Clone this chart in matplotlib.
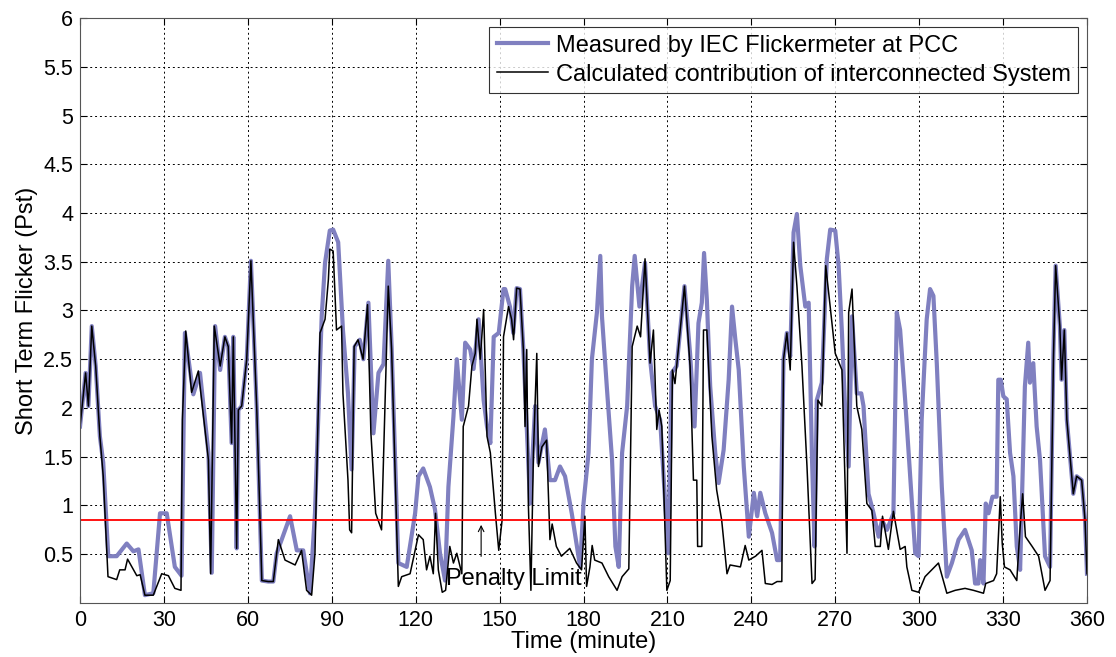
import numpy as np
import matplotlib
matplotlib.use("Agg")
import matplotlib.pyplot as plt
from matplotlib.ticker import FuncFormatter

plt.rcParams["font.family"] = ["Liberation Sans", "DejaVu Sans"]

# measured Pst (IEC flickermeter at PCC)
t_meas = [0, 2.0, 3.0, 4.2, 5.6, 7.1, 8.3, 10.1, 13.1, 16.7, 19.1, 20.9, 23.2, 26.2, 28.6, 31.0,
          33.9, 36.3, 37.5, 40.5, 42.9, 45.9, 47.1, 48.3, 50.1, 51.8, 53.0, 54.2, 54.8, 56.0,
          56.6, 57.8, 59.6, 61.1, 63.2, 65.0, 67.3, 69.1, 70.3, 72.1, 75.1, 77.5, 79.8, 82.2,
          84.0, 86.4, 87.6, 89.3, 90.5, 92.3, 94.0, 95.8, 97.1, 98.2, 100.0, 101.3, 103.1,
          104.9, 106.7, 108.5, 110.2, 111.4, 113.8, 116.8, 119.8, 121.0, 122.7, 125.1, 126.9,
          128.7, 130.5, 131.7, 133.5, 134.7, 136.5, 137.7, 139.5, 140.7, 142.5, 144.3, 145.5,
          146.7, 147.9, 149.7, 151.4, 152.0, 153.7, 154.9, 156.1, 157.3, 158.5, 159.7, 160.9,
          162.7, 163.9, 166.2, 168.0, 169.8, 171.6, 173.4, 175.8, 178.8, 180.0, 181.8, 183.0,
          184.8, 186.0, 186.6, 188.4, 190.2, 191.4, 192.6, 193.8, 195.6, 197.4, 198.3, 200.0,
          202.0, 203.8, 205.6, 207.4, 209.2, 210.3, 211.5, 213.3, 216.1, 218.1, 219.7, 221.1,
          222.3, 223.1, 224.1, 225.3, 227.1, 228.3, 230.1, 231.9, 233.1, 234.3, 235.5, 237.3,
          239.1, 240.9, 242.1, 243.2, 245.0, 247.4, 249.2, 250.3, 251.5, 252.7, 253.9, 255.1,
          256.3, 257.5, 259.3, 260.5, 261.7, 262.6, 263.4, 265.2, 267.0, 268.2, 270.0, 271.2,
          272.4, 273.6, 274.8, 276.0, 277.7, 279.3, 280.1, 281.9, 283.7, 285.5, 286.7, 288.5,
          290.8, 292.0, 293.2, 295.0, 296.8, 298.6, 299.8, 300.9, 302.7, 303.9, 305.1, 306.3,
          308.1, 309.9, 311.7, 314.1, 316.4, 318.8, 320.0, 321.2, 321.8, 323.0, 323.8, 324.8,
          326.2, 327.7, 328.3, 329.2, 330.1, 331.3, 332.5, 333.7, 334.9, 336.1, 337.8, 339.0,
          339.6, 340.8, 342.0, 343.2, 345.0, 346.8, 348.0, 348.8, 350.3, 350.9, 351.9, 352.8,
          355.1, 356.3, 358.1, 359.3, 360.0]
pst_meas = [1.81, 2.36, 2.02, 2.84, 2.43, 1.71, 1.44, 0.48, 0.48, 0.61, 0.53, 0.55, 0.08, 0.10,
            0.92, 0.92, 0.37, 0.28, 2.77, 2.14, 2.36, 1.54, 0.31, 2.84, 2.39, 2.73, 2.63, 1.64,
            2.73, 0.56, 1.98, 2.02, 2.50, 3.51, 1.98, 0.23, 0.22, 0.22, 0.51, 0.65, 0.89, 0.54,
            0.54, 0.10, 0.92, 2.94, 3.49, 3.82, 3.83, 3.70, 2.80, 2.15, 1.37, 2.63, 2.70, 2.50,
            3.08, 1.74, 2.36, 2.45, 3.51, 2.63, 0.41, 0.37, 0.92, 1.30, 1.38, 1.19, 0.96, 0.51,
            0.23, 1.19, 1.91, 2.50, 1.88, 2.67, 2.60, 2.40, 2.91, 2.08, 1.81, 1.64, 2.73, 2.77,
            3.22, 3.22, 3.04, 2.77, 3.23, 3.22, 2.60, 1.81, 1.02, 2.02, 1.44, 1.78, 1.26, 1.26,
            1.40, 1.30, 0.92, 0.37, 1.02, 1.54, 2.50, 2.98, 3.56, 2.94, 2.19, 1.47, 0.58, 0.37,
            1.54, 2.02, 3.25, 3.56, 3.04, 3.49, 2.50, 2.02, 1.88, 1.02, 0.51, 2.36, 2.43, 3.25,
            2.56, 1.81, 2.87, 3.08, 3.59, 3.11, 2.22, 1.54, 1.23, 1.57, 2.29, 3.04, 2.70, 2.39,
            1.40, 0.68, 1.13, 0.89, 1.13, 0.92, 0.72, 0.44, 0.44, 2.50, 2.77, 2.53, 3.80, 3.99,
            3.46, 3.04, 3.08, 1.47, 0.58, 2.08, 2.26, 3.53, 3.83, 3.82, 3.46, 2.77, 1.95, 1.40,
            2.94, 2.15, 2.15, 2.02, 1.12, 0.92, 0.68, 0.85, 0.75, 0.92, 2.98, 2.80, 2.08, 1.30,
            0.51, 0.48, 1.88, 2.91, 3.22, 3.15, 2.46, 1.19, 0.27, 0.41, 0.65, 0.75, 0.54, 0.20,
            0.20, 0.44, 0.20, 1.02, 0.92, 1.09, 1.09, 2.29, 2.29, 2.12, 2.09, 1.54, 1.30, 0.58,
            0.34, 2.22, 2.67, 2.26, 2.46, 1.81, 1.47, 0.48, 0.37, 2.56, 3.46, 2.84, 2.29, 2.80,
            1.88, 1.12, 1.30, 1.26, 0.85, 0.30]

# calculated contribution of the interconnected system
t_calc = [0, 2.0, 3.0, 4.2, 5.6, 7.1, 8.3, 10.0, 13.1, 14.2, 16.1, 17.0, 20.3, 21.5, 23.2,
          26.2, 29.2, 31.6, 33.9, 36.1, 36.6, 37.8, 39.9, 42.3, 45.9, 46.7, 48.0, 50.1, 51.8,
          53.0, 54.2, 54.8, 56.0, 56.6, 57.8, 59.6, 61.1, 63.2, 65.0, 67.3, 69.1, 70.9, 73.3,
          76.9, 79.2, 81.0, 82.8, 84.0, 85.8, 87.6, 88.8, 89.3, 90.5, 91.7, 93.5, 94.0, 95.8,
          96.4, 97.1, 98.0, 99.4, 101.2, 102.8, 104.0, 105.7, 107.8, 110.2, 111.4, 113.8, 115.0,
          118.0, 121.0, 122.7, 123.9, 125.1, 126.3, 127.1, 128.1, 129.5, 130.7, 132.2, 133.5,
          134.7, 136.5, 137.0, 138.9, 140.1, 141.3, 141.9, 143.1, 144.3, 145.5, 146.7, 148.5,
          149.7, 150.9, 151.4, 153.2, 154.3, 155.0, 156.1, 157.3, 158.5, 159.1, 159.7, 160.3,
          161.2, 162.1, 163.3, 163.9, 165.1, 166.8, 168.0, 168.8, 170.3, 172.1, 175.1, 177.5,
          179.3, 180.5, 181.1, 182.3, 183.1, 184.0, 186.6, 189.0, 192.0, 193.8, 196.2, 197.4,
          199.2, 200.4, 202.0, 203.8, 205.0, 206.2, 207.0, 208.0, 209.8, 211.0, 211.8, 212.7,
          216.1, 218.1, 219.3, 220.5, 220.8, 222.3, 222.9, 224.1, 225.9, 227.6, 229.4, 231.3,
          232.4, 236.1, 237.8, 239.1, 241.5, 243.8, 245.0, 247.4, 249.2, 250.9, 251.5, 252.7,
          253.9, 255.1, 256.3, 258.1, 259.9, 261.7, 262.8, 263.8, 265.2, 266.6, 270.0, 272.4,
          274.2, 274.8, 276.0, 277.7, 279.5, 281.3, 283.1, 284.3, 286.1, 286.9, 289.0, 290.8,
          293.2, 295.0, 295.6, 297.4, 299.8, 302.1, 306.9, 309.9, 312.9, 316.4, 319.4, 323.0,
          323.8, 326.6, 327.7, 329.0, 329.7, 330.5, 332.5, 334.9, 336.1, 337.0, 338.0, 340.4,
          342.7, 345.0, 346.8, 348.0, 348.8, 350.3, 350.9, 351.9, 352.8, 355.1, 356.3, 358.1,
          359.3, 360.0]
pst_calc = [1.81, 2.36, 2.02, 2.84, 2.43, 1.71, 1.30, 0.27, 0.24, 0.34, 0.34, 0.45, 0.28, 0.29,
            0.08, 0.08, 0.30, 0.28, 0.15, 0.13, 1.88, 2.79, 2.16, 2.38, 1.47, 0.30, 2.84, 2.43,
            2.73, 2.63, 1.64, 2.73, 0.56, 1.98, 2.02, 2.50, 3.51, 1.98, 0.23, 0.22, 0.22, 0.65,
            0.44, 0.39, 0.54, 0.13, 0.08, 0.51, 2.77, 2.91, 3.32, 3.63, 3.61, 2.80, 2.84, 2.15,
            1.26, 0.75, 0.72, 2.63, 2.70, 2.50, 3.06, 1.74, 0.92, 0.75, 3.25, 2.60, 0.17, 0.27,
            0.30, 0.70, 0.65, 0.34, 0.48, 0.30, 0.92, 0.34, 0.11, 0.13, 0.58, 0.41, 0.51, 0.30,
            1.81, 2.02, 2.43, 2.56, 2.91, 2.50, 3.01, 1.71, 1.54, 0.92, 0.54, 0.85, 2.73, 3.04,
            2.91, 2.70, 3.23, 3.22, 2.60, 1.81, 2.60, 1.00, 0.13, 1.54, 2.56, 1.40, 1.60, 1.67,
            0.65, 0.81, 0.58, 0.48, 0.56, 0.41, 0.34, 0.89, 0.17, 0.37, 0.59, 0.44, 0.41, 0.27,
            0.13, 0.27, 0.35, 2.63, 2.84, 2.73, 3.53, 2.46, 2.80, 1.78, 1.98, 1.81, 0.13, 0.23,
            2.39, 2.25, 3.25, 2.43, 1.26, 1.26, 0.58, 0.58, 2.80, 2.80, 1.71, 1.16, 0.85, 0.30,
            0.39, 0.37, 0.59, 0.44, 0.48, 0.54, 0.20, 0.19, 0.22, 0.22, 2.50, 2.77, 2.39, 3.70,
            3.25, 2.43, 1.40, 0.20, 0.24, 2.08, 2.02, 3.46, 2.56, 2.39, 0.51, 2.98, 3.22, 2.02,
            1.78, 1.02, 0.95, 0.58, 0.58, 0.89, 0.55, 0.94, 0.55, 0.58, 0.37, 0.13, 0.11, 0.27,
            0.41, 0.10, 0.13, 0.15, 0.13, 0.10, 0.20, 0.23, 0.30, 1.09, 0.61, 0.37, 0.34, 0.23,
            0.78, 1.12, 0.68, 0.58, 0.48, 0.13, 0.23, 2.50, 3.46, 2.84, 2.29, 2.80, 1.88, 1.12,
            1.30, 1.26, 0.85, 0.30]

penalty_limit = 0.85
x_ticks = list(range(0, 361, 30))
y_ticks = [0.5, 1, 1.5, 2, 2.5, 3, 3.5, 4, 4.5, 5, 5.5, 6]

fig = plt.figure(figsize=(11.16, 6.57), dpi=100)
ax = fig.add_axes([0.0717, 0.0822, 0.9023, 0.8904])

ax.plot(t_meas, pst_meas, color="#8080C0", linewidth=3.0,
        label="Measured by IEC Flickermeter at PCC")
ax.plot(t_calc, pst_calc, color="black", linewidth=1.1,
        label="Calculated contribution of interconnected System")
ax.axhline(penalty_limit, color="red", linewidth=1.3)

ax.annotate("", xy=(143.4, penalty_limit - 0.02), xytext=(143.4, 0.45),
            arrowprops=dict(arrowstyle="->", color="black", lw=0.8))
ax.text(131, 0.25, "Penalty Limit", fontsize=17, ha="left", va="center")

ax.set_xlim(0, 360)
ax.set_ylim(0, 6)
ax.set_xticks(x_ticks)
ax.set_yticks(y_ticks)
ax.yaxis.set_major_formatter(FuncFormatter(lambda v, p: f"{v:g}"))
ax.tick_params(direction="in", top=True, right=True, labelsize=15.5, length=5, width=0.8,
               pad=5)
ax.grid(True, color="black", linestyle=(0, (2, 3)), linewidth=0.7)
for s in ax.spines.values():
    s.set_color("#555555")

ax.set_xlabel("Time (minute)", fontsize=17, labelpad=0)
ax.set_ylabel("Short Term Flicker (Pst)", fontsize=17, labelpad=4)

leg = ax.legend(loc="upper right", fontsize=17, frameon=True, fancybox=False,
                borderpad=0.3, handlelength=2.2, handletextpad=0.3, labelspacing=0.3,
                borderaxespad=0.4)
leg.get_frame().set_edgecolor("black")
leg.get_frame().set_linewidth(0.8)

fig.savefig("out.png", dpi=100)
